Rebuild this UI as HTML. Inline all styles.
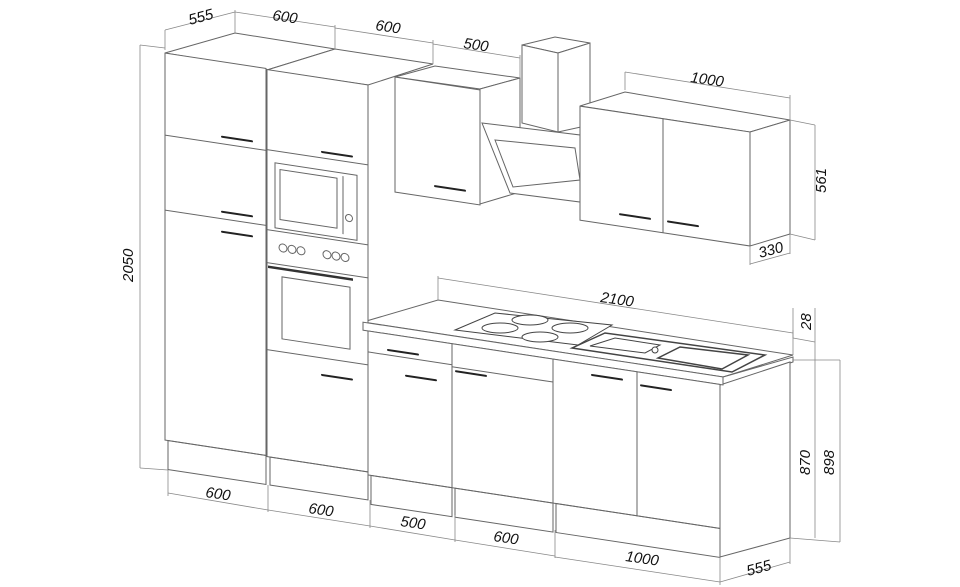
<!DOCTYPE html>
<html><head><meta charset="utf-8"><style>
html,body{margin:0;padding:0;background:#fff;}
svg{display:block}
text{font-family:"Liberation Sans",sans-serif;font-style:italic;font-size:15px;fill:#111}
</style></head><body>
<svg width="960" height="587" viewBox="0 0 960 587" xmlns="http://www.w3.org/2000/svg">
<g fill="none" stroke="#666" stroke-width="1">
<polygon points="165,53 235,33 335,49 267,70" fill="#fff"/>
<polygon points="267,70 335,49 433,64 368,85" fill="#fff"/>
<line x1="368" y1="85" x2="368" y2="320"/>
<polygon points="395,77 435,66 520,78 480,89" fill="#fff"/>
<polygon points="480,89 520,78 520,192 480,204" fill="#fff"/>
<polygon points="522,45 558,53 590,43 555,37" fill="#fff"/>
<polygon points="522,45 558,53 558,132 522,123" fill="#fff"/>
<polygon points="558,53 590,43 590,125 558,132" fill="#fff"/>
<polygon points="482,123 580,135 580,202 510,193" fill="#fff"/>
<polygon points="495,140 575,148 580,180 513,187" fill="#fff"/>
<polygon points="580,106 625,92 790,120 750,132" fill="#fff"/>
<polygon points="750,132 790,120 790,234 750,246" fill="#fff"/>
<polygon points="363,322 438,300 793,355 723,377" fill="#fff"/>
<polygon points="723,377 793,357 793,362 723,385" fill="#fff"/>
<polygon points="720,385 790,362 790,538 720,557" fill="#fff"/>
</g>

<g transform="matrix(1,0.152,0,1,0,0)" fill="none" stroke="#666" stroke-width="1">
<rect x="165" y="28" width="101" height="387" fill="#fff"/>
<line x1="165" y1="110" x2="266" y2="110"/>
<line x1="165" y1="185" x2="266" y2="185"/>
<rect x="168" y="415" width="98" height="29"/>
<rect x="267" y="29" width="101" height="387" fill="#fff"/>
<line x1="267" y1="109" x2="368" y2="109"/>
<rect x="275" y="121" width="82" height="65"/>
<rect x="280" y="127" width="57" height="50"/>
<line x1="343" y1="124" x2="343" y2="182"/>
<circle cx="349" cy="165" r="3.5"/>
<line x1="267" y1="189" x2="368" y2="189"/>
<line x1="267" y1="222" x2="368" y2="222"/>
<circle cx="283" cy="205" r="4"/><circle cx="292" cy="205" r="4"/><circle cx="301" cy="205" r="4"/>
<circle cx="327" cy="205" r="4"/><circle cx="336" cy="205" r="4"/><circle cx="345" cy="205" r="4"/>
<line x1="268" y1="226" x2="353" y2="226" stroke="#333" stroke-width="2.5"/>
<rect x="282" y="234" width="68" height="62"/>
<line x1="267" y1="309" x2="368" y2="309"/>
<rect x="270" y="416" width="98" height="28"/>
<rect x="395" y="17" width="85" height="115" fill="#fff"/>
<rect x="580" y="18" width="170" height="114" fill="#fff"/>
<line x1="663" y1="18" x2="663" y2="132"/>
<rect x="363" y="267" width="360" height="8" fill="#fff"/>
<rect x="368" y="275" width="352" height="144" fill="#fff"/>
<line x1="368" y1="296" x2="452" y2="296"/>
<line x1="452" y1="275" x2="452" y2="419"/>
<line x1="452" y1="298" x2="553" y2="298"/>
<line x1="553" y1="275" x2="553" y2="419"/>
<line x1="637" y1="275" x2="637" y2="419"/>
<rect x="371" y="419" width="81" height="29"/>
<rect x="455" y="419" width="98" height="29"/>
<rect x="556" y="419" width="164" height="29"/>
<g stroke="#222" stroke-width="2" stroke-linecap="round">
<line x1="222" y1="103" x2="252" y2="103"/>
<line x1="222" y1="178" x2="252" y2="178"/>
<line x1="222" y1="198" x2="252" y2="198"/>
<line x1="322" y1="103" x2="352" y2="103"/>
<line x1="322" y1="326" x2="352" y2="326"/>
<line x1="435" y1="120" x2="465" y2="120"/>
<line x1="620" y1="120" x2="650" y2="120"/>
<line x1="668" y1="120" x2="698" y2="120"/>
<line x1="388" y1="291" x2="418" y2="291"/>
<line x1="406" y1="314" x2="436" y2="314"/>
<line x1="456" y1="302" x2="486" y2="302"/>
<line x1="592" y1="285" x2="622" y2="285"/>
<line x1="641" y1="288" x2="671" y2="288"/>
</g>
</g>

<g fill="#fff" stroke="#444" stroke-width="1">
<polygon points="455,330 495,313 612,325 578,345"/>
<ellipse cx="500" cy="328" rx="18" ry="5"/>
<ellipse cx="530" cy="320" rx="18" ry="5"/>
<ellipse cx="570" cy="328" rx="18" ry="5"/>
<ellipse cx="540" cy="337" rx="18" ry="5"/>
<polygon points="572,348 605,333 765,355 732,372" stroke-width="1.5"/>
<polygon points="590,346 615,338 660,345 645,353"/>
<polygon points="658,358 680,347 748,355 722,369" stroke-width="1.5"/>
<circle cx="655" cy="350" r="3"/>
</g>

<g fill="none" stroke="#888" stroke-width="0.8">
<line x1="165" y1="50" x2="165" y2="30"/><line x1="165" y1="30" x2="235" y2="12"/><line x1="235" y1="33" x2="235" y2="10"/>
<line x1="235" y1="12" x2="335" y2="27"/><line x1="335" y1="49" x2="335" y2="25"/>
<line x1="335" y1="28" x2="433" y2="43"/><line x1="433" y1="64" x2="433" y2="40"/>
<line x1="433" y1="44" x2="520" y2="58"/><line x1="520" y1="78" x2="520" y2="55"/>
<line x1="625" y1="90" x2="625" y2="72"/><line x1="625" y1="72" x2="790" y2="98"/><line x1="790" y1="120" x2="790" y2="95"/>
<line x1="790" y1="120" x2="815" y2="125"/><line x1="790" y1="234" x2="815" y2="240"/><line x1="815" y1="125" x2="815" y2="240"/>
<line x1="750" y1="246" x2="750" y2="265"/><line x1="790" y1="234" x2="790" y2="254"/><line x1="750" y1="264" x2="790" y2="253"/>
<line x1="165" y1="48" x2="140" y2="45"/><line x1="140" y1="45" x2="140" y2="468"/><line x1="140" y1="468" x2="168" y2="470"/>
<line x1="438" y1="300" x2="438" y2="276"/><line x1="438" y1="278" x2="793" y2="333"/><line x1="793" y1="355" x2="793" y2="330"/>
<line x1="793" y1="308" x2="793" y2="338"/><line x1="793" y1="338" x2="815" y2="342"/><line x1="815" y1="308" x2="815" y2="538"/>
<line x1="790" y1="538" x2="840" y2="542"/><line x1="793" y1="360" x2="840" y2="360"/><line x1="840" y1="360" x2="840" y2="542"/>
<line x1="168" y1="470" x2="168" y2="496"/><line x1="168" y1="493" x2="268" y2="510"/><line x1="268" y1="485" x2="268" y2="512"/>
<line x1="268" y1="510" x2="370" y2="526"/><line x1="370" y1="500" x2="370" y2="528"/>
<line x1="370" y1="526" x2="455" y2="540"/><line x1="455" y1="515" x2="455" y2="542"/>
<line x1="455" y1="540" x2="555" y2="556"/><line x1="555" y1="530" x2="555" y2="558"/>
<line x1="555" y1="557" x2="720" y2="582"/><line x1="720" y1="557" x2="720" y2="585"/>
<line x1="720" y1="582" x2="790" y2="562"/><line x1="790" y1="538" x2="790" y2="564"/>
</g>

<g>
<text transform="translate(190,25) rotate(-15)">555</text>
<text transform="translate(272,20) rotate(8)">600</text>
<text transform="translate(375,30) rotate(8)">600</text>
<text transform="translate(463,48) rotate(8)">500</text>
<text transform="translate(690,82) rotate(8)">1000</text>
<text transform="translate(600,302) rotate(8)">2100</text>
<text transform="translate(205,497) rotate(8)">600</text>
<text transform="translate(308,513) rotate(8)">600</text>
<text transform="translate(400,526) rotate(8)">500</text>
<text transform="translate(493,541) rotate(8)">600</text>
<text transform="translate(625,561) rotate(8)">1000</text>
<text transform="translate(748,576) rotate(-15)">555</text>
<text transform="translate(760,258) rotate(-15)">330</text>
<text transform="translate(133,282) rotate(-90)">2050</text>
<text transform="translate(826,193) rotate(-90)">561</text>
<text transform="translate(811,330) rotate(-90)">28</text>
<text transform="translate(810,475) rotate(-90)">870</text>
<text transform="translate(834,475) rotate(-90)">898</text>
</g>
</svg>
</body></html>
